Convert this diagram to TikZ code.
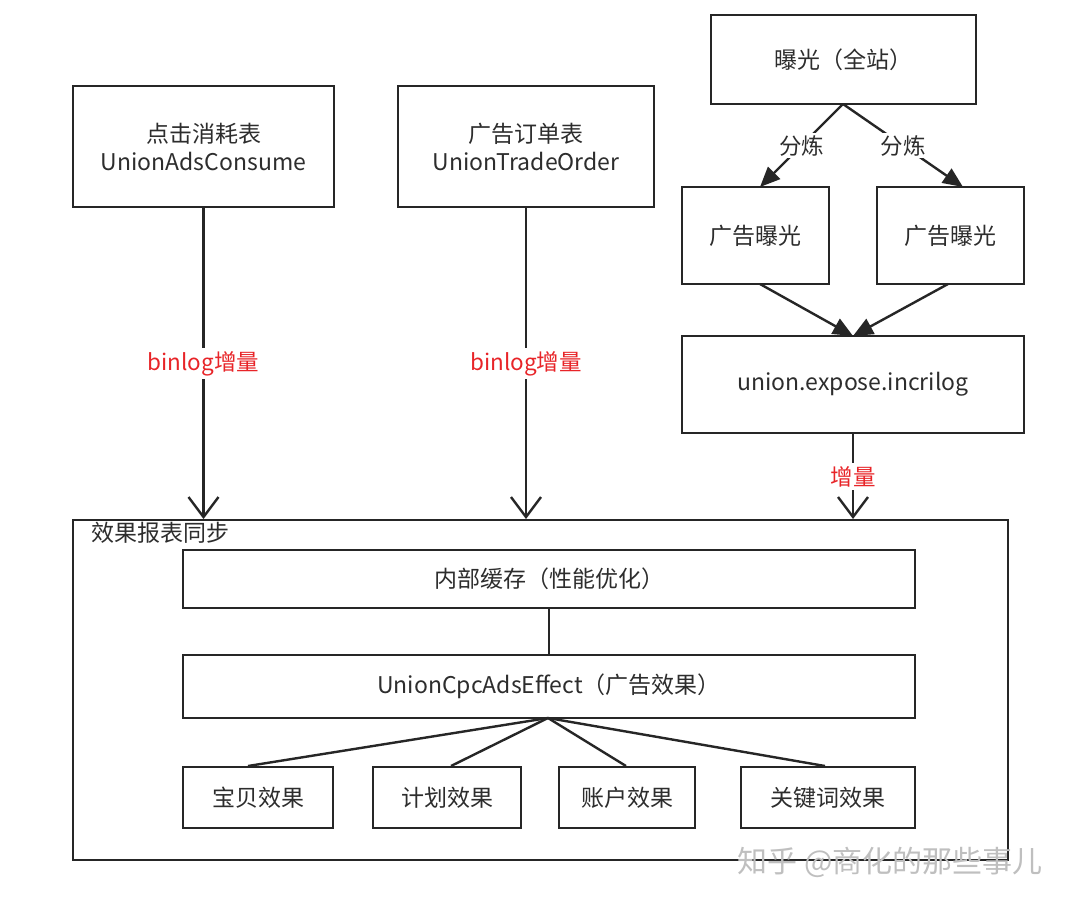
\documentclass[tikz,border=0pt]{standalone}
\usepackage{fontspec}
\setmainfont{Noto Sans CJK SC}
\usetikzlibrary{arrows.meta,calc}
\definecolor{txt}{RGB}{45,45,45}
\definecolor{lbl}{RGB}{232,36,40}
\tikzset{
  box/.style={draw=black!85, line width=2pt, inner sep=0pt, align=center, text=txt, font=\fontsize{23}{28}\selectfont},
  conn/.style={draw=black!85, line width=2.4pt},
  openarr/.style={conn, -{Straight Barb[length=20pt,width=30pt,line width=2.4pt]}},
  fillarr/.style={conn, -{Triangle[length=20pt,width=17pt]}},
  redlbl/.style={fill=white, text=lbl, inner sep=3pt, font=\fontsize{22.5}{26}\selectfont},
  graylbl/.style={fill=white, text=txt, inner sep=2pt, font=\fontsize{22.5}{26}\selectfont},
}
\begin{document}
\begin{tikzpicture}[x=1pt,y=-1pt]
\useasboundingbox[fill=white] (0,0) rectangle (1080,911);
% top boxes
\node[box, minimum width=261pt, minimum height=121pt] (A) at (203.5,146.5) {点击消耗表\\UnionAdsConsume};
\node[box, minimum width=256pt, minimum height=121pt] (B) at (526,146.5) {广告订单表\\UnionTradeOrder};
\node[box, minimum width=265pt, minimum height=89pt] (C) at (843.5,59.5) {曝光（全站）};
\node[box, minimum width=147pt, minimum height=97pt] (D) at (755.5,235.5) {广告曝光};
\node[box, minimum width=147pt, minimum height=97pt] (E) at (950.5,235.5) {广告曝光};
\node[box, minimum width=342pt, minimum height=97pt] (F) at (853,384.5) {union.expose.incrilog};
% container
\node[box, minimum width=935pt, minimum height=340pt] (G) at (540.5,690) {};
\node[anchor=north west, inner sep=0pt, text=txt, font=\fontsize{23}{27}\selectfont] (Gl) at (91,522) {效果报表同步};
\node[box, fill=white, minimum width=732pt, minimum height=58pt] (H) at (549,579) {内部缓存（性能优化）};
\node[box, minimum width=732pt, minimum height=63pt] (I) at (549,686.5) {UnionCpcAdsEffect（广告效果）};
\node[box, minimum width=150pt, minimum height=61pt] (J1) at (258,797.5) {宝贝效果};
\node[box, minimum width=148pt, minimum height=61pt] (J2) at (447,797.5) {计划效果};
\node[box, minimum width=136pt, minimum height=61pt] (J3) at (627,797.5) {账户效果};
\node[box, minimum width=174pt, minimum height=61pt] (J4) at (828,797.5) {关键词效果};
% coordinates
\coordinate (Cs) at (843,104);
\coordinate (Dt) at (760,187);
\coordinate (Et) at (963,187);
\coordinate (Db) at (760,284);
\coordinate (Eb) at (948,284);
\coordinate (Ft) at (853,336);
\coordinate (Is) at (548,718);
% connectors
\draw[openarr] (A.south) -- node[redlbl]{binlog增量} (A.south |- G.north);
\draw[openarr] (B.south) -- node[redlbl]{binlog增量} (B.south |- G.north);
\draw[openarr] (F.south) -- node[redlbl]{增量} (F.south |- G.north);
\draw[fillarr] (Cs) -- node[graylbl]{分炼} (Dt);
\draw[fillarr] (Cs) -- node[graylbl]{分炼} (Et);
\draw[fillarr] (Db) -- (Ft);
\draw[fillarr] (Eb) -- (Ft);
\draw[conn] (H.south) -- (I.north);
\draw[conn] (Is) -- (J1.north -| 248,0);
\draw[conn] (Is) -- (J2.north -| 451,0);
\draw[conn] (Is) -- (J3.north -| 626,0);
\draw[conn] (Is) -- (J4.north -| 825,0);
% watermark
\node[text=black!25, font=\fontsize{30}{33}\selectfont, inner sep=0pt] (wm) at (890,862) {知乎 @商化的那些事儿};
\end{tikzpicture}
\end{document}
